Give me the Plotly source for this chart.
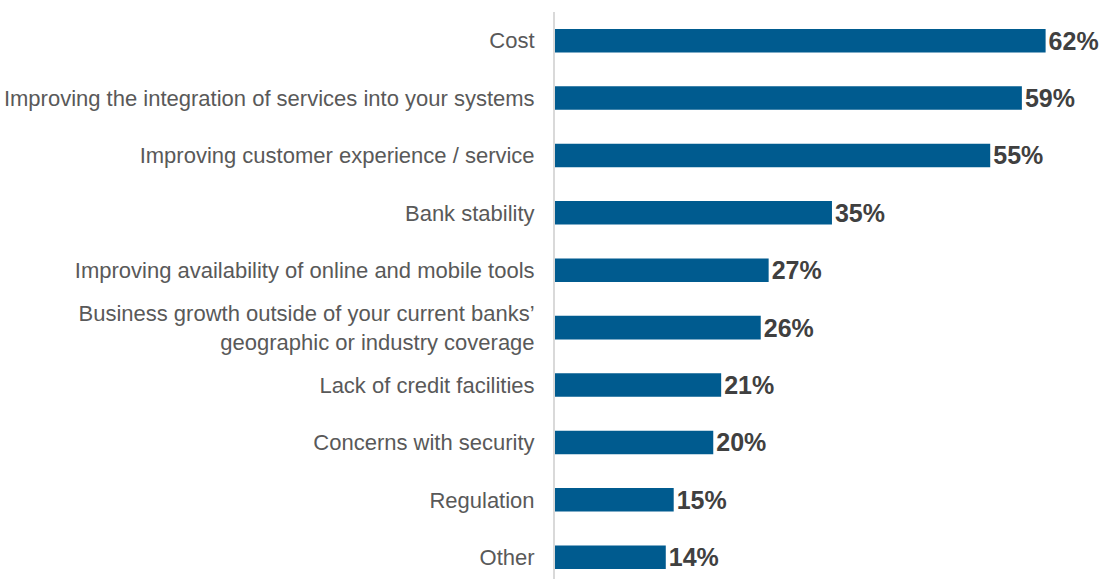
import plotly.graph_objects as go

categories = [
    "Cost",
    "Improving the integration of services into your systems",
    "Improving customer experience / service",
    "Bank stability",
    "Improving availability of online and mobile tools",
    "Business growth outside of your current banks’<br>geographic or industry coverage",
    "Lack of credit facilities",
    "Concerns with security",
    "Regulation",
    "Other",
]
values = [62, 59, 55, 35, 27, 26, 21, 20, 15, 14]
value_labels = [f"{v}%" for v in values]

BAR_COLOR = "#005b8f"

fig = go.Figure(
    go.Bar(
        x=values,
        y=categories,
        orientation="h",
        marker=dict(color=BAR_COLOR, line=dict(width=0)),
        width=0.41,
        text=value_labels,
        textposition="outside",
        constraintext="none",
        cliponaxis=False,
        textfont=dict(family="Liberation Sans, Arial, sans-serif", size=25, color="#404040", weight="bold"),
    )
)

fig.update_layout(
    width=1101,
    height=579,
    margin=dict(l=555, r=0, t=12, b=0),
    paper_bgcolor="white",
    plot_bgcolor="white",
    showlegend=False,
    bargap=0.59,
    font=dict(family="Liberation Sans, Arial, sans-serif", size=22, color="#595959"),
    xaxis=dict(
        range=[0, 69],
        showgrid=False,
        zeroline=False,
        showticklabels=False,
        showline=False,
    ),
    yaxis=dict(
        range=[9.38, -0.5],
        showgrid=False,
        zeroline=False,
        showline=True,
        linecolor="#d9d9d9",
        linewidth=2,
        ticks="",
        ticklabelstandoff=14,
        tickfont=dict(size=22, color="#595959"),
    ),
)

fig.write_html("out.html")
